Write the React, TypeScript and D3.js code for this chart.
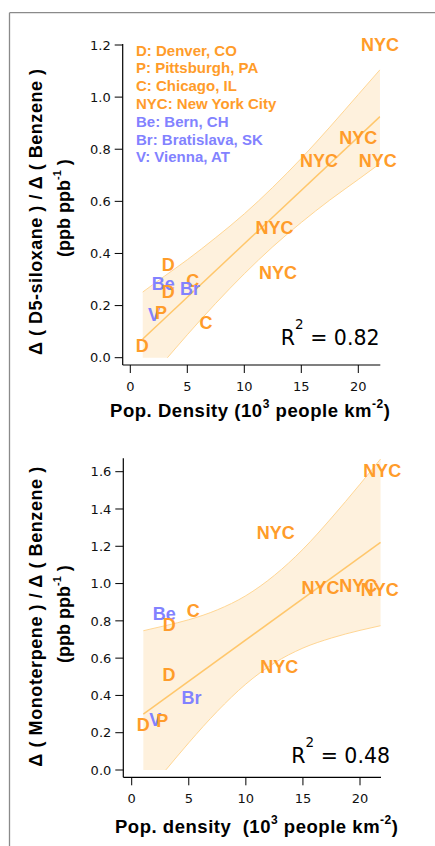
import React from "react";
import * as d3 from "d3";

// ---------- data ----------
const legendLabels = [
  "D: Denver, CO",
  "P: Pittsburgh, PA",
  "C: Chicago, IL",
  "NYC: New York City",
  "Be: Bern, CH",
  "Br: Bratislava, SK",
  "V: Vienna, AT",
];
const blueCities = ["Be", "Br", "V"];

// Panel 1: D5-siloxane / benzene
const topLabels = ["NYC", "NYC", "NYC", "NYC", "NYC", "NYC", "D", "Be", "C", "D", "Br", "V", "P", "C", "D"];
const topX = [21.9, 20.0, 16.55, 21.7, 12.65, 12.96, 3.33, 2.9, 5.47, 3.33, 5.24, 2.08, 2.69, 6.64, 1.05];
const topY = [1.2, 0.844, 0.757, 0.757, 0.498, 0.327, 0.359, 0.286, 0.295, 0.254, 0.267, 0.167, 0.173, 0.135, 0.045];
const topFitX = [1.09, 21.9];
const topFitY = [0.072, 0.925];
const topBandX = [1.09, 3, 5, 7.5, 10, 12.5, 15, 17.5, 20, 21.9];
const topUpper = [0.252, 0.313, 0.376, 0.461, 0.552, 0.654, 0.765, 0.885, 1.01, 1.105];
const topLower = [-0.108, -0.013, 0.088, 0.209, 0.322, 0.426, 0.519, 0.605, 0.684, 0.745];
const topYTicks = [0, 0.2, 0.4, 0.6, 0.8, 1.0, 1.2];
const topR2 = "0.82";

// Panel 2: monoterpene / benzene
const botLabels = ["NYC", "NYC", "NYC", "NYC", "NYC", "NYC", "C", "Be", "D", "D", "Br", "V", "P", "D"];
const botX = [21.94, 12.63, 16.55, 19.84, 21.74, 12.93, 5.39, 2.85, 3.29, 3.27, 5.25, 2.07, 2.68, 1.02];
const botY = [1.607, 1.275, 0.978, 0.987, 0.966, 0.554, 0.858, 0.837, 0.778, 0.51, 0.39, 0.272, 0.268, 0.245];
const botFitX = [1.02, 21.8];
const botFitY = [0.3, 1.221];
const botBandX = [1.02, 3, 5, 7.5, 10, 12.5, 15, 17.5, 20, 21.8];
const botUpper = [0.747, 0.775, 0.806, 0.859, 0.935, 1.044, 1.184, 1.352, 1.533, 1.668];
const botLower = [-0.147, 0.001, 0.146, 0.315, 0.461, 0.574, 0.654, 0.708, 0.749, 0.774];
const botYTicks = [0, 0.2, 0.4, 0.6, 0.8, 1.0, 1.2, 1.4, 1.6];
const botR2 = "0.48";

const xTicks = [0, 5, 10, 15, 20];

// ---------- style ----------
const ORANGE = "#FF9C2A";
const BLUE = "#8282FF";
const FILL = "#FEF1DD";
const BAND_STROKE = "#FFD694";
const FIT_STROKE = "#FFC76C";
const TICK_FONT = "DejaVu Sans, Verdana, sans-serif";
const BOLD_FONT = "Liberation Sans, Arial, sans-serif";

type PanelCfg = {
  id: string;
  labels: string[];
  xs: number[];
  ys: number[];
  fitX: number[];
  fitY: number[];
  bandX: number[];
  upper: number[];
  lower: number[];
  yTicks: number[];
  yMax: number;
  r2: string;
  xPx: [number, number];
  yPx: [number, number];
  left: number;
  right: number;
  top: number;
  bottom: number;
  r2Right: number;
  r2Base: number;
  yTitle1: string;
  yTitle1Start: number;
  yTitle1Len: number;
  yTitle2Start: number;
  yTitle2Len: number;
  xTitleParts: [string, string, string];
  xTitleStart: number;
  xTitleLen: number;
  xTitleBase: number;
  xTickBase: number;
};

function Panel({ c }: { c: PanelCfg }) {
  const x = d3.scaleLinear().domain([0, 20]).range(c.xPx);
  const y = d3.scaleLinear().domain([0, c.yMax]).range(c.yPx);
  const idx = c.bandX.map((_, i) => i);
  const area = d3
    .area<number>()
    .x((i) => x(c.bandX[i]))
    .y0((i) => y(c.lower[i]))
    .y1((i) => y(c.upper[i]))
    .curve(d3.curveMonotoneX);
  const up = d3
    .line<number>()
    .x((i) => x(c.bandX[i]))
    .y((i) => y(c.upper[i]))
    .curve(d3.curveMonotoneX);
  const lo = d3
    .line<number>()
    .x((i) => x(c.bandX[i]))
    .y((i) => y(c.lower[i]))
    .curve(d3.curveMonotoneX);
  const fit = d3
    .line<number>()
    .x((i) => x(c.fitX[i]))
    .y((i) => y(c.fitY[i]));
  const clipId = `clip-${c.id}`;
  const y0 = y(0);
  return (
    <g>
      <defs>
        <clipPath id={clipId}>
          <rect x={c.left} y={c.top} width={c.right - c.left} height={y0 - c.top} />
        </clipPath>
      </defs>
      <g clipPath={`url(#${clipId})`}>
        <path d={area(idx) || ""} fill={FILL} stroke="none" />
        <path d={up(idx) || ""} fill="none" stroke={BAND_STROKE} strokeWidth={1} />
        <path d={lo(idx) || ""} fill="none" stroke={BAND_STROKE} strokeWidth={1} />
        <path d={fit([0, 1]) || ""} fill="none" stroke={FIT_STROKE} strokeWidth={1.5} />
      </g>
      {/* axes */}
      <line x1={c.left} x2={c.left} y1={c.top} y2={c.bottom} stroke="#000" strokeWidth={1.2} />
      <line x1={c.left} x2={c.right} y1={c.bottom} y2={c.bottom} stroke="#000" strokeWidth={1.2} />
      {c.yTicks.map((t) => (
        <g key={"y" + t}>
          <line x1={c.left - 8} x2={c.left} y1={y(t)} y2={y(t)} stroke="#000" strokeWidth={1} />
          <text
            x={c.left - 12}
            y={y(t)}
            dy="0.36em"
            textAnchor="end"
            fontFamily={TICK_FONT}
            fontSize={13}
            fill="#111"
          >
            {d3.format(".1f")(t)}
          </text>
        </g>
      ))}
      {xTicks.map((t) => (
        <g key={"x" + t}>
          <line x1={x(t)} x2={x(t)} y1={c.bottom} y2={c.bottom + 8} stroke="#000" strokeWidth={1} />
          <text
            x={x(t)}
            y={c.xTickBase}
            textAnchor="middle"
            fontFamily={TICK_FONT}
            fontSize={13}
            fill="#111"
          >
            {t}
          </text>
        </g>
      ))}
      {/* labels */}
      {c.labels.map((l, i) => (
        <text
          key={"l" + i}
          x={x(c.xs[i])}
          y={y(c.ys[i])}
          dy="0.36em"
          textAnchor="middle"
          fontFamily={BOLD_FONT}
          fontWeight="bold"
          fontSize={18}
          fill={blueCities.includes(l) ? BLUE : ORANGE}
        >
          {l}
        </text>
      ))}
      {/* R2 */}
      <text x={c.r2Right} y={c.r2Base} textAnchor="end" fontFamily={TICK_FONT} fontSize={20.5} fill="#000">
        R<tspan dy={-16} fontSize={13.5}>2</tspan>
        <tspan dy={16}>{" = " + c.r2}</tspan>
      </text>
      {/* y title */}
      <text
        transform={`translate(42,${c.yTitle1Start}) rotate(-90)`}
        textAnchor="start"
        fontFamily={BOLD_FONT}
        fontWeight="bold"
        fontSize={18}
        fill="#000"
        textLength={c.yTitle1Len}
        lengthAdjust="spacing"
      >
        {c.yTitle1}
      </text>
      <text
        transform={`translate(70,${c.yTitle2Start}) rotate(-90)`}
        textAnchor="start"
        fontFamily={BOLD_FONT}
        fontWeight="bold"
        fontSize={18}
        fill="#000"
        style={{ whiteSpace: "pre" }}
      >
        (ppb ppb<tspan dy={-9} fontSize={11}>-1</tspan>
        <tspan dy={9}>{" )"}</tspan>
      </text>
      {/* x title */}
      <text
        x={c.xTitleStart}
        y={c.xTitleBase}
        textAnchor="start"
        fontFamily={BOLD_FONT}
        fontWeight="bold"
        fontSize={18.5}
        fill="#000"
        style={{ whiteSpace: "pre" }}
        textLength={c.xTitleLen}
        lengthAdjust="spacing"
      >
        {c.xTitleParts[0]}
        <tspan dy={-9.5} fontSize={12}>3</tspan>
        <tspan dy={9.5}>{c.xTitleParts[1]}</tspan>
        <tspan dy={-9.5} fontSize={12}>-2</tspan>
        <tspan dy={9.5}>{c.xTitleParts[2]}</tspan>
      </text>
    </g>
  );
}

const topCfg: PanelCfg = {
  id: "top",
  labels: topLabels,
  xs: topX,
  ys: topY,
  fitX: topFitX,
  fitY: topFitY,
  bandX: topBandX,
  upper: topUpper,
  lower: topLower,
  yTicks: topYTicks,
  yMax: 1.2,
  r2: topR2,
  xPx: [130.3, 358.3],
  yPx: [357.7, 45],
  left: 122.7,
  right: 380.3,
  top: 44,
  bottom: 365,
  r2Right: 379.5,
  r2Base: 345,
  yTitle1: "\u0394 ( D5-siloxane ) / \u0394 ( Benzene )",
  yTitle1Start: 355,
  yTitle1Len: 286,
  yTitle2Start: 257,
  yTitle2Len: 97,
  xTitleParts: ["Pop. Density (10", " people km", ")"],
  xTitleStart: 110,
  xTitleLen: 280,
  xTitleBase: 417.3,
  xTickBase: 390.7,
};

const botCfg: PanelCfg = {
  id: "bot",
  labels: botLabels,
  xs: botX,
  ys: botY,
  fitX: botFitX,
  fitY: botFitY,
  bandX: botBandX,
  upper: botUpper,
  lower: botLower,
  yTicks: botYTicks,
  yMax: 1.6,
  r2: botR2,
  xPx: [131.7, 360],
  yPx: [770, 471.7],
  left: 123.3,
  right: 381,
  top: 458.3,
  bottom: 777.3,
  r2Right: 390,
  r2Base: 763.3,
  yTitle1: "\u0394 ( Monoterpene ) / \u0394 ( Benzene )",
  yTitle1Start: 766.7,
  yTitle1Len: 300,
  yTitle2Start: 663,
  yTitle2Len: 98,
  xTitleParts: ["Pop. density  (10", " people km", ")"],
  xTitleStart: 115,
  xTitleLen: 283,
  xTitleBase: 833.3,
  xTickBase: 802.7,
};

export default function App() {
  return (
    <svg
      width={435}
      height={846}
      style={{ position: "absolute", left: 0, top: 0, background: "#fff" }}
    >
      <rect x={0} y={0} width={435} height={846} fill="#fff" />
      {/* frame */}
      <line x1={9.5} x2={435} y1={12.7} y2={12.7} stroke="#8a8a8a" strokeWidth={1.3} />
      <line x1={9.5} x2={9.5} y1={12.7} y2={846} stroke="#8a8a8a" strokeWidth={1.3} />
      {/* legend */}
      {legendLabels.map((l, i) => (
        <text
          key={l}
          x={136}
          y={55.5 + i * 17.8}
          fontFamily={BOLD_FONT}
          fontWeight="bold"
          fontSize={15}
          fill={i < 4 ? ORANGE : BLUE}
        >
          {l}
        </text>
      ))}
      <Panel c={topCfg} />
      <Panel c={botCfg} />
    </svg>
  );
}
